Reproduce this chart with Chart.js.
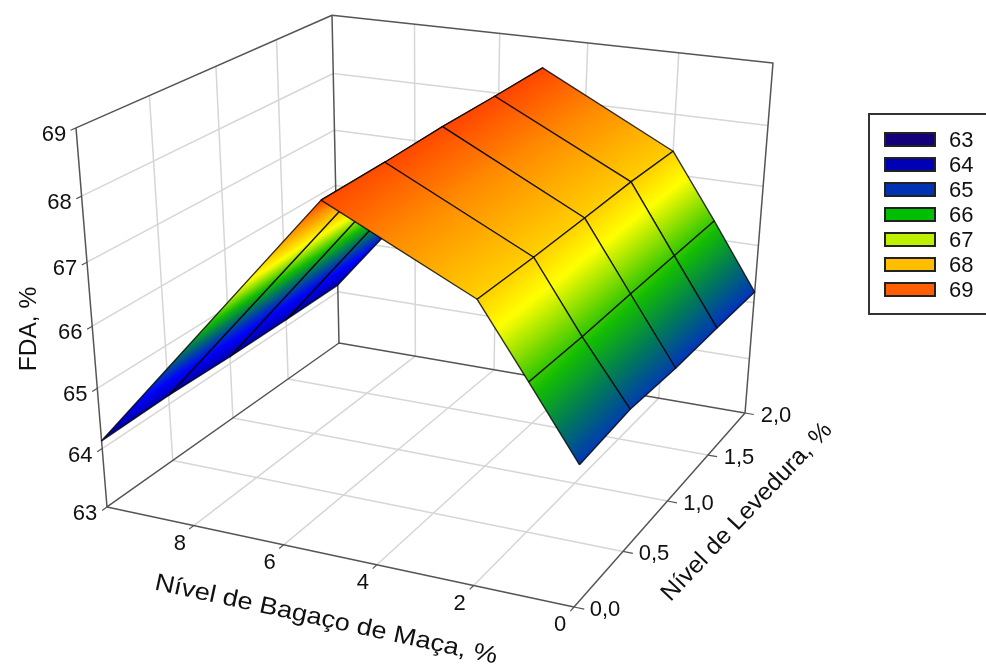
<!DOCTYPE html>
<html lang="pt">
<head>
<meta charset="UTF-8">
<title>FDA</title>
<script src="https://cdn.jsdelivr.net/npm/chart.js"></script>
<style>
  html, body { margin: 0; padding: 0; background: #fff; overflow: hidden; }
  #wrap { position: relative; width: 986px; height: 666px; }
  #legend { position: absolute; left: 868px; top: 113px; width: 130px; height: 202px; border: 2px solid #333; box-sizing: border-box;
            font: 22px "Liberation Sans", Arial, sans-serif; color: #111; }
  #legend div { position: absolute; left: 79px; line-height: 24px; }
  #legend span { position: absolute; left: -65px; top: 4px; width: 48px; height: 11px; border: 2px solid #222; box-sizing: content-box; }
</style>
</head>
<body>
<div id="wrap">
  <canvas id="grafico" width="986" height="666"></canvas>
  <div id="legend"></div>
</div>
<script>
// eixos
const bagaco = [0, 1, 2, 5, 10]
const levedura = [0, 0.5, 1, 1.5, 2]
const bagacoTicks = [0, 2, 4, 6, 8]
const bagacoGrid = [2, 4, 6, 8]
const leveduraTicks = ['0,0', '0,5', '1,0', '1,5', '2,0']
const fdaTicks = [63, 64, 65, 66, 67, 68, 69]

// FDA, uma lista por nivel de bagaco
const fdaBagaco0 = [65.23, 65.31, 65.24, 65.22, 65.19]
const fdaBagaco1 = [66.32, 66.30, 66.31, 66.31, 66.31]
const fdaBagaco2 = [67.39, 67.38, 67.39, 67.41, 67.39]
const fdaBagaco5 = [68.46, 68.47, 68.50, 68.50, 68.51]
const fdaBagaco10 = [64.13, 64.15, 64.12, 64.12, 64.13]
const fda = [fdaBagaco0, fdaBagaco1, fdaBagaco2, fdaBagaco5, fdaBagaco10]

// legenda
const legendLabels = [63, 64, 65, 66, 67, 68, 69]
const legendColors = ['#14007a', '#0000b4', '#0032b4', '#00be00', '#bef000', '#ffbe00', '#ff5f00']

// escala de cor da superficie
const colorZ = [63, 64, 64.8, 65.2, 65.7, 66.2, 67, 67.5, 68, 68.5, 69]
const colorRGB = [[20,0,110],[0,0,150],[0,0,255],[0,50,190],[0,120,90],[20,190,0],[255,255,0],[255,195,0],[255,140,0],[255,70,0],[255,40,0]]

// camera: (bagaco, levedura, fda) normalizados para tela
function project(b, l, z) {
    const u = b / 10, v = l / 2, w = (z - 63) / 6
    const d = 1 + 0.0955 * u + 0.2048 * v - 0.097 * w
    return {
        x: (574 - 456.8 * u + 323.6 * v - 41.3 * w) / d,
        y: (607 - 51.6 * u - 109.4 * v - 427.7 * w) / d
    }
}

function colorAt(z) {
    if (z <= colorZ[0]) return colorRGB[0]
    for (let i = 1; i < colorZ.length; i++) {
        if (z <= colorZ[i]) {
            const t = (z - colorZ[i - 1]) / (colorZ[i] - colorZ[i - 1])
            return colorRGB[i].map((c, k) => Math.round(colorRGB[i - 1][k] + (c - colorRGB[i - 1][k]) * t))
        }
    }
    return colorRGB[colorRGB.length - 1]
}

const datasets = []
function addLine(points, color, width) {
    datasets.push({ data: points, showLine: true, borderColor: color, borderWidth: width, borderJoinStyle: 'round', pointRadius: 0, clip: false, fill: false })
}

const gridColor = '#d6d6d6'
const boxColor = '#555555'

// grade das paredes e do piso
bagacoGrid.forEach(b => {
    addLine([project(b, 0, 63), project(b, 2, 63), project(b, 2, 69)], gridColor, 1.5)
})
levedura.slice(1, 4).forEach(l => {
    addLine([project(0, l, 63), project(10, l, 63), project(10, l, 69)], gridColor, 1.5)
})
fdaTicks.slice(1, 6).forEach(z => {
    addLine([project(10, 0, z), project(10, 2, z), project(0, 2, z)], gridColor, 1.5)
})

// caixa
addLine([project(10, 0, 69), project(10, 0, 63), project(0, 0, 63), project(0, 2, 63), project(10, 2, 63), project(10, 0, 63)], boxColor, 1.5)
addLine([project(10, 0, 69), project(10, 2, 69), project(0, 2, 69), project(0, 2, 63)], boxColor, 1.5)
addLine([project(10, 2, 69), project(10, 2, 63)], boxColor, 1.5)

// marcas dos eixos
fdaTicks.forEach(z => addLine([project(10, 0, z), project(10, -0.035, z)], boxColor, 1.2))
bagacoTicks.forEach(b => addLine([project(b, 0, 63), project(b, -0.035, 63)], boxColor, 1.2))
levedura.forEach(l => addLine([project(0, l, 63), project(-0.2, l, 63)], boxColor, 1.2))

// superficie, do fundo para a frente
for (let i = bagaco.length - 2; i >= 0; i--) {
    for (let j = levedura.length - 2; j >= 0; j--) {
        const b0 = bagaco[i], b1 = bagaco[i + 1], l0 = levedura[j], l1 = levedura[j + 1]
        addLine([
            project(b0, l0, fda[i][j]),
            project(b1, l0, fda[i + 1][j]),
            project(b1, l1, fda[i + 1][j + 1]),
            project(b0, l1, fda[i][j + 1]),
            project(b0, l0, fda[i][j])
        ], 'rgba(0,0,0,0.8)', 1.4)
        datasets[datasets.length - 1].cellZ = [(fda[i][j] + fda[i][j + 1]) / 2, (fda[i + 1][j] + fda[i + 1][j + 1]) / 2]
    }
}

// primeiro da lista fica embaixo
datasets.forEach((d, i) => { d.order = datasets.length - i })

const surfacePlugin = {
    id: 'surface',
    beforeDatasetDraw(chart, args) {
        const ds = chart.data.datasets[args.index]
        if (!ds.cellZ) return
        const p = args.meta.data
        const ctx = chart.ctx
        // gradiente perpendicular as linhas de FDA constante
        let dx = (p[3].x - p[0].x) + (p[2].x - p[1].x)
        let dy = (p[3].y - p[0].y) + (p[2].y - p[1].y)
        const len = Math.hypot(dx, dy)
        const nx = -dy / len, ny = dx / len
        const ax = (p[0].x + p[3].x) / 2, ay = (p[0].y + p[3].y) / 2
        const bx = (p[1].x + p[2].x) / 2, by = (p[1].y + p[2].y) / 2
        const s = (bx - ax) * nx + (by - ay) * ny
        const g = ctx.createLinearGradient(ax, ay, ax + nx * s, ay + ny * s)
        for (let k = 0; k <= 30; k++) {
            const c = colorAt(ds.cellZ[0] + (ds.cellZ[1] - ds.cellZ[0]) * k / 30)
            g.addColorStop(k / 30, 'rgb(' + c.join(',') + ')')
        }
        ctx.save()
        ctx.beginPath()
        ctx.moveTo(p[0].x, p[0].y)
        for (let k = 1; k < 4; k++) ctx.lineTo(p[k].x, p[k].y)
        ctx.closePath()
        ctx.fillStyle = g
        ctx.fill()
        ctx.restore()
    }
}

function drawText(ctx, text, x, y, angle, size, stretch) {
    ctx.save()
    ctx.translate(x, y)
    ctx.rotate(angle * Math.PI / 180)
    ctx.scale(stretch || 1, 1)
    ctx.font = size + 'px "Liberation Sans", Arial, sans-serif'
    ctx.fillStyle = '#111'
    ctx.textAlign = 'center'
    ctx.textBaseline = 'middle'
    ctx.fillText(text, 0, 0)
    ctx.restore()
}

const labelsPlugin = {
    id: 'labels',
    afterDraw(chart) {
        const ctx = chart.ctx
        const sx = chart.scales.x, sy = chart.scales.y
        const at = p => ({ x: sx.getPixelForValue(p.x), y: sy.getPixelForValue(p.y) })
        fdaTicks.forEach(z => {
            const p = at(project(10, 0, z))
            drawText(ctx, String(z), p.x - 22, p.y + 7, 0, 22)
        })
        bagacoTicks.forEach(b => {
            const p = at(project(b, 0, 63))
            drawText(ctx, String(b), p.x - 14, p.y + 18, 0, 22)
        })
        levedura.forEach((l, i) => {
            const p = at(project(0, l, 63))
            drawText(ctx, leveduraTicks[i], p.x + 31, p.y + 3, 0, 22)
        })
        drawText(ctx, 'FDA, %', 29, 329, -90, 24.5)
        drawText(ctx, 'Nível de Bagaço de Maça, %', 326, 620, 12.3, 24, 1.13)
        drawText(ctx, 'Nível de Levedura, %', 747, 512, -46.5, 24, 1.03)
    }
}

new Chart(document.getElementById('grafico').getContext('2d'), {
    type: 'scatter',
    data: { datasets: datasets },
    options: {
        responsive: false,
        animation: false,
        layout: { padding: 0 },
        elements: { line: { tension: 0, capBezierPoints: false } },
        plugins: { legend: { display: false }, tooltip: { enabled: false } },
        scales: {
            x: { type: 'linear', display: false, min: 0, max: 986 },
            y: { type: 'linear', display: false, min: 0, max: 666, reverse: true }
        }
    },
    plugins: [surfacePlugin, labelsPlugin]
})

const legendEl = document.getElementById('legend')
legendLabels.forEach((label, i) => {
    const row = document.createElement('div')
    row.style.top = (13 + i * 25) + 'px'
    row.textContent = label
    const box = document.createElement('span')
    box.style.background = legendColors[i]
    row.appendChild(box)
    legendEl.appendChild(row)
})
</script>
</body>
</html>
